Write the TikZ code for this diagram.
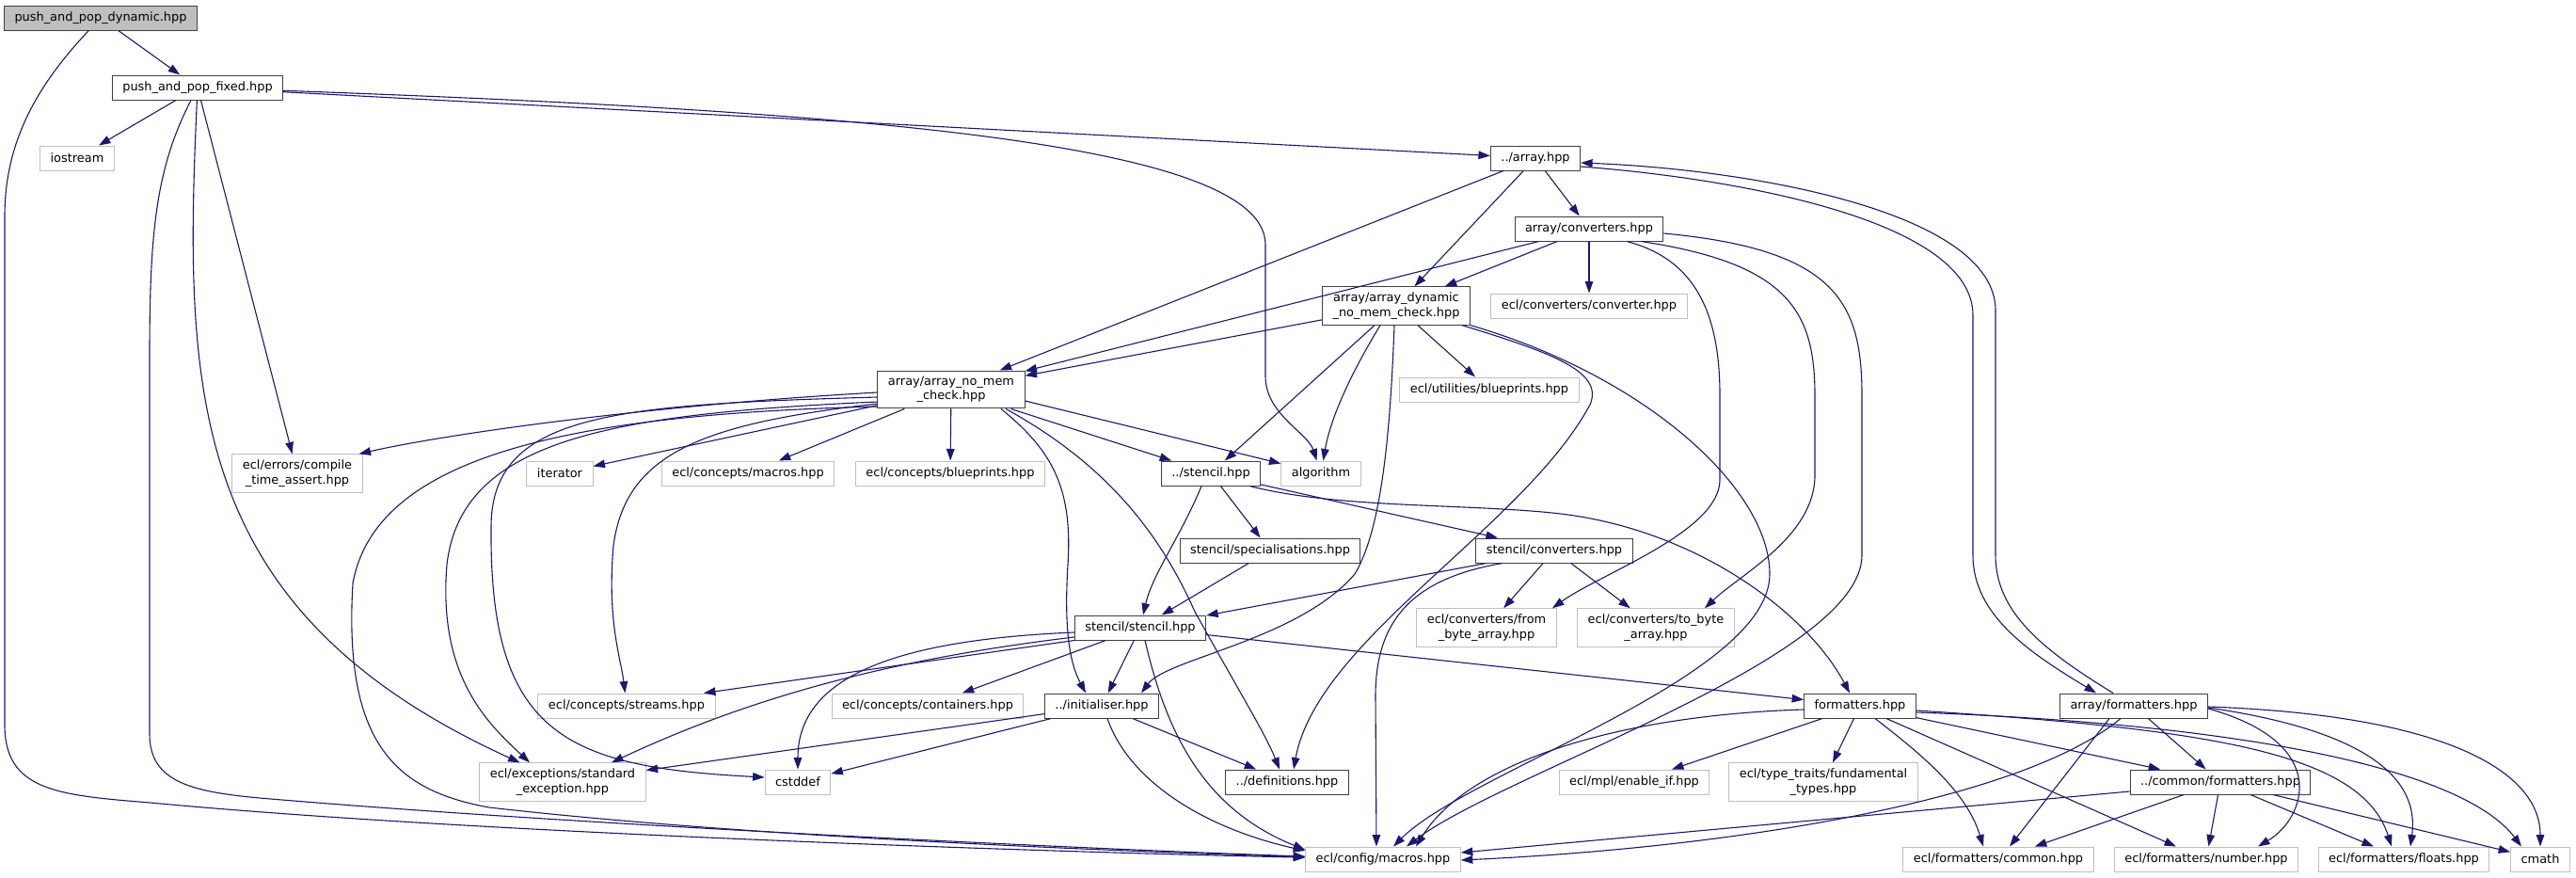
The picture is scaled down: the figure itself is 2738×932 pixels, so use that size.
\documentclass[tikz,border=0pt]{standalone}
\usepackage{fontspec}
\setmainfont{DejaVu Sans}
\usetikzlibrary{arrows.meta}
\definecolor{edgeblue}{HTML}{191970}
\definecolor{filegray}{HTML}{404040}
\definecolor{extgray}{HTML}{BFBFBF}
\definecolor{rootgray}{HTML}{BFBFBF}
\begin{document}
\begin{tikzpicture}[x=1pt,y=-1pt,>={Triangle[length=12.5pt,width=8.6pt]},
  every node/.style={rectangle,align=center,font=\fontsize{12.9}{15.5}\selectfont,inner xsep=11pt,inner ysep=6pt,minimum height=26pt,line width=1pt},
  file/.style={draw=filegray,fill=white},
  root/.style={draw=filegray,fill=rootgray},
  ext/.style={draw=extgray,fill=white},
  dep/.style={->,draw=edgeblue,line width=1.1pt}]
  \useasboundingbox (0,0) rectangle (2738,932);

  \node[root] (dyn)        at (107,19)   {push\_and\_pop\_dynamic.hpp};
  \node[file] (fixed)      at (210,93)   {push\_and\_pop\_fixed.hpp};
  \node[ext]  (iostream)   at (82,168)   {iostream};
  \node[file] (array)      at (1632,168) {../array.hpp};
  \node[file] (conv)       at (1689,243) {array/converters.hpp};
  \node[file] (adyn)       at (1484,325) {array/array\_dynamic\\\_no\_mem\_check.hpp};
  \node[ext]  (converter)  at (1689,325) {ecl/converters/converter.hpp};
  \node[file] (anmc)       at (1011,414) {array/array\_no\_mem\\\_check.hpp};
  \node[ext]  (ublue)      at (1583,414) {ecl/utilities/blueprints.hpp};
  \node[ext]  (cta)        at (316,503)  {ecl/errors/compile\\\_time\_assert.hpp};
  \node[ext]  (iterator)   at (595,503)  {iterator};
  \node[ext]  (cmacros)    at (795,503)  {ecl/concepts/macros.hpp};
  \node[ext]  (cblue)      at (1010,503) {ecl/concepts/blueprints.hpp};
  \node[file] (stencil)    at (1287,503) {../stencil.hpp};
  \node[ext]  (algorithm)  at (1404,503) {algorithm};
  \node[file] (spec)       at (1350,585) {stencil/specialisations.hpp};
  \node[file] (sconv)      at (1652,585) {stencil/converters.hpp};
  \node[file] (sstencil)   at (1212,667) {stencil/stencil.hpp};
  \node[ext]  (fba)        at (1580,667) {ecl/converters/from\\\_byte\_array.hpp};
  \node[ext]  (tba)        at (1760,667) {ecl/converters/to\_byte\\\_array.hpp};
  \node[ext]  (streams)    at (666,750)  {ecl/concepts/streams.hpp};
  \node[ext]  (containers) at (986,750)  {ecl/concepts/containers.hpp};
  \node[file] (init)       at (1171,750) {../initialiser.hpp};
  \node[file] (fmt)        at (1977,750) {formatters.hpp};
  \node[file] (afmt)       at (2268,750) {array/formatters.hpp};
  \node[ext]  (stdexc)     at (598,831)  {ecl/exceptions/standard\\\_exception.hpp};
  \node[ext]  (cstddef)    at (848,831)  {cstddef};
  \node[file] (defs)       at (1368,831) {../definitions.hpp};
  \node[ext]  (enable)     at (1737,831) {ecl/mpl/enable\_if.hpp};
  \node[ext]  (fund)       at (1938,831) {ecl/type\_traits/fundamental\\\_types.hpp};
  \node[file] (cfmt)       at (2360,831) {../common/formatters.hpp};
  \node[ext]  (macros)     at (1470,913) {ecl/config/macros.hpp};
  \node[ext]  (fcommon)    at (2124,913) {ecl/formatters/common.hpp};
  \node[ext]  (number)     at (2345,913) {ecl/formatters/number.hpp};
  \node[ext]  (floats)     at (2555,913) {ecl/formatters/floats.hpp};
  \node[ext]  (cmath)      at (2700,913) {cmath};

  \path (dyn)   edge [dep] (fixed);
  \draw[dep] (dyn) .. controls (40,90) and (5,150) .. (5,230) -- (5,770) .. controls (5,840) and (60,845) .. (160,853) .. controls (500,885) and (1100,905) .. (macros);
  \path (fixed) edge [dep] (iostream);
  \path (fixed) edge [dep] (array);
  \draw[dep] (fixed) .. controls (900,118) and (1345,150) .. (1345,260) -- (1345,400) .. controls (1345,440) and (1390,460) .. (algorithm);
  \path (fixed) edge [dep] (cta);
  \draw[dep] (fixed) .. controls (195,420) and (200,650) .. (stdexc);
  \draw[dep] (fixed) .. controls (165,180) and (159,250) .. (159,380) -- (159,780) .. controls (159,835) and (210,843) .. (300,850) .. controls (600,875) and (1100,900) .. (macros);

  \path (array) edge [dep] (anmc);
  \path (array) edge [dep] (adyn);
  \path (array) edge [dep] (conv);
  \draw[dep] ([yshift=-9]array.east) .. controls (1850,190) and (2097,235) .. (2097,335) -- (2097,590) .. controls (2097,655) and (2160,695) .. ([xshift=-40]afmt.north);
  \draw[dep] ([xshift=-22]afmt.north) .. controls (2170,690) and (2121,650) .. (2121,590) -- (2121,330) .. controls (2121,225) and (1860,180) .. ([yshift=-5]array.east);

  \path (conv) edge [dep] (adyn);
  \path (conv) edge [dep] (anmc);
  \path (conv) edge [dep] (converter);
  \draw[dep] ([xshift=40]conv.south) .. controls (1800,275) and (1828,330) .. (1828,420) -- (1828,510) .. controls (1828,565) and (1700,610) .. ([xshift=70]fba.north);
  \draw[dep] ([xshift=55]conv.south) .. controls (1900,280) and (1929,330) .. (1929,420) -- (1929,505) .. controls (1929,570) and (1850,610) .. ([xshift=52]tba.north);
  \draw[dep] ([yshift=-5]conv.east) .. controls (1950,265) and (1979,320) .. (1979,420) -- (1979,590) .. controls (1979,700) and (1600,820) .. ([xshift=25]macros.north);

  \path (adyn) edge [dep] (anmc);
  \path (adyn) edge [dep] (ublue);
  \draw[dep] ([xshift=-17]adyn.south) .. controls (1440,390) and (1415,440) .. (algorithm);
  \path ([xshift=-23]adyn.south) edge [dep] (stencil);
  \draw[dep] ([xshift=-2]adyn.south) .. controls (1478,450) and (1470,560) .. (1440,610) .. controls (1380,680) and (1240,700) .. ([xshift=42]init.north);
  \draw[dep] ([xshift=70]adyn.south) .. controls (1650,375) and (1705,395) .. (1690,430) .. controls (1620,560) and (1400,680) .. ([xshift=7]defs.north);
  \draw[dep] (adyn.south east) .. controls (1750,400) and (1881,520) .. (1881,610) .. controls (1881,720) and (1560,820) .. ([xshift=11]macros.north);

  \draw[dep] ([yshift=-3]anmc.west) .. controls (700,430) and (480,460) .. ([xshift=-4]cta.north east);
  \path (anmc) edge [dep] (iterator);
  \path (anmc) edge [dep] (cmacros);
  \path (anmc) edge [dep] (cblue);
  \path (anmc) edge [dep] (stencil);
  \path ([yshift=-12]anmc.east) edge [dep] (algorithm);
  \draw[dep] ([yshift=-15]anmc.west) .. controls (750,450) and (665,480) .. (652,580) .. controls (645,660) and (660,700) .. (streams);
  \draw[dep] ([yshift=-13]anmc.west) .. controls (640,440) and (490,470) .. (475,600) .. controls (465,720) and (520,770) .. ([xshift=-35]stdexc.north);
  \draw[dep] ([yshift=-8]anmc.west) .. controls (650,430) and (522,440) .. (522,560) .. controls (520,780) and (600,815) .. ([yshift=5]cstddef.west);
  \draw[dep] ([yshift=-18]anmc.west) .. controls (620,440) and (400,480) .. (375,620) .. controls (365,790) and (420,840) .. (520,858) .. controls (800,890) and (1200,905) .. (macros);
  \draw[dep] ([xshift=53]anmc.south) .. controls (1120,480) and (1140,520) .. (1135,600) .. controls (1130,680) and (1140,710) .. ([xshift=-17]init.north);
  \draw[dep] ([xshift=58]anmc.south) .. controls (1170,490) and (1230,560) .. (1270,650) .. controls (1320,740) and (1345,780) .. ([xshift=-8]defs.north);

  \path (stencil) edge [dep] (spec);
  \draw[dep] ([xshift=-10]stencil.south) .. controls (1255,570) and (1225,610) .. ([xshift=3]sstencil.north);
  \path (stencil) edge [dep] (sconv);
  \draw[dep] ([xshift=-12]stencil.south east) .. controls (1420,540) and (1550,535) .. (1650,545) .. controls (1800,560) and (1920,650) .. ([xshift=-11]fmt.north);
  \path (spec)  edge [dep] (sstencil);
  \path (sconv) edge [dep] (sstencil);
  \path (sconv) edge [dep] (fba);
  \path (sconv) edge [dep] (tba);
  \draw[dep] ([xshift=-55]sconv.south) .. controls (1500,615) and (1462,660) .. (1462,740) -- ([xshift=-7]macros.north);

  \path (sstencil.south west) edge [dep] ([xshift=82]streams.north);
  \path (sstencil) edge [dep] (containers);
  \path (sstencil) edge [dep] (init);
  \draw[dep] ([yshift=-10]sstencil.west) .. controls (950,700) and (800,740) .. ([xshift=52]stdexc.north);
  \draw[dep] ([yshift=-5]sstencil.west) .. controls (950,680) and (848,720) .. (cstddef);
  \draw[dep] ([xshift=5]sstencil.south) .. controls (1240,780) and (1280,860) .. ([yshift=10]macros.west);
  \path (sstencil) edge [dep] (fmt);

  \path (init) edge [dep] (stdexc);
  \path (init) edge [dep] (cstddef);
  \path (init) edge [dep] (defs);
  \draw[dep] ([xshift=6]init.south) .. controls (1200,830) and (1280,880) .. ([yshift=9]macros.west);

  \draw[dep] ([yshift=-4]fmt.west) .. controls (1720,760) and (1560,810) .. ([xshift=35]macros.north);
  \path (fmt) edge [dep] (enable);
  \path (fmt) edge [dep] (fund);
  \draw[dep] ([xshift=16]fmt.south) .. controls (2040,800) and (2090,840) .. ([xshift=-16]fcommon.north);
  \path ([xshift=28]fmt.south) edge [dep] ([xshift=-32]number.north);
  \path (fmt) edge [dep] (cfmt);
  \draw[dep] ([yshift=-5]fmt.east) .. controls (2350,775) and (2510,800) .. ([xshift=-13]floats.north);
  \draw[dep] ([yshift=-7]fmt.east) .. controls (2400,770) and (2620,820) .. ([xshift=-20]cmath.north);

  \draw[dep] ([xshift=-14]afmt.south) .. controls (2150,850) and (1850,900) .. ([yshift=-1]macros.east);
  \path ([xshift=-26]afmt.south) edge [dep] ([xshift=12]fcommon.north);
  \path (afmt) edge [dep] (cfmt);
  \draw[dep] ([yshift=-3]afmt.east) .. controls (2480,790) and (2450,870) .. ([xshift=55]number.north);
  \draw[dep] ([yshift=-2]afmt.east) .. controls (2540,780) and (2570,840) .. ([xshift=7]floats.north);
  \draw[dep] ([yshift=-1]afmt.east) .. controls (2600,760) and (2700,820) .. (cmath.north);

  \path ([yshift=-10]cfmt.west) edge [dep] ([yshift=7]macros.east);
  \path (cfmt) edge [dep] (fcommon);
  \path (cfmt) edge [dep] (number);
  \path (cfmt) edge [dep] (floats);
  \path (cfmt) edge [dep] (cmath);
\end{tikzpicture}
\end{document}
